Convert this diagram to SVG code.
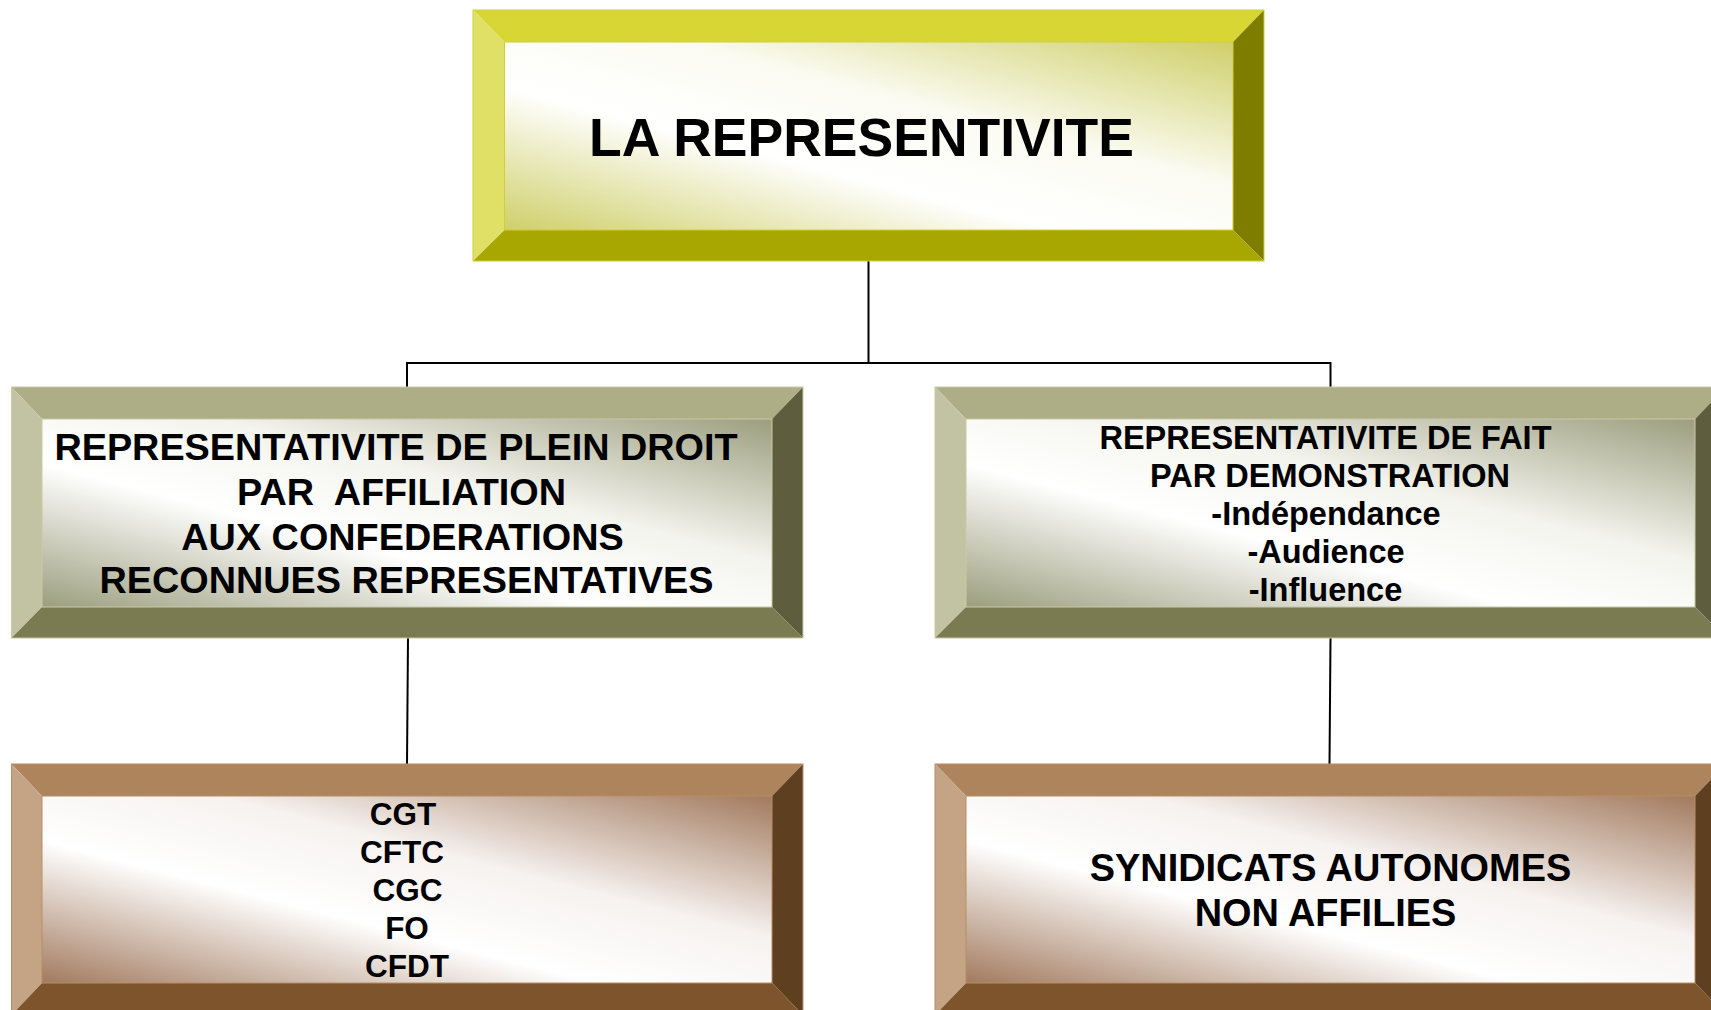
<svg xmlns="http://www.w3.org/2000/svg" width="1711" height="1010" viewBox="0 0 1711 1010">
<defs>
<style>
text{font-family:"Liberation Sans",Arial,sans-serif;font-weight:bold;fill:#000;text-anchor:middle;white-space:pre}
.conn{stroke:#000;stroke-width:2;fill:none}
.y1{fill:#D8D634}.y2{fill:#E0E066}.y3{fill:#7F7D00}.y4{fill:#A8A600}
.o1{fill:#ADAE86}.o2{fill:#C2C3A3}.o3{fill:#5E5E3E}.o4{fill:#7B7B52}
.b1{fill:#AE845C}.b2{fill:#C4A484}.b3{fill:#5E3F20}.b4{fill:#7E542C}
.ey{stroke:#CFCF3A;stroke-width:1}
.eo{stroke:#C9CAA8;stroke-width:1}
.eb{stroke:#B88E66;stroke-width:1}
</style>
<linearGradient id="gy" x1="1" y1="0" x2="0" y2="1">
<stop offset="0" stop-color="#CFCF6A"/>
<stop offset="0.38" stop-color="#FBFBF2"/>
<stop offset="0.62" stop-color="#FFFFFF"/>
<stop offset="1" stop-color="#CFCF6A"/>
</linearGradient>
<linearGradient id="go" x1="1" y1="0" x2="0" y2="1">
<stop offset="0" stop-color="#9C9E7E"/>
<stop offset="0.38" stop-color="#F4F4EE"/>
<stop offset="0.62" stop-color="#FFFFFF"/>
<stop offset="1" stop-color="#9C9E7E"/>
</linearGradient>
<linearGradient id="gb" x1="1" y1="0" x2="0" y2="1">
<stop offset="0" stop-color="#A27A5E"/>
<stop offset="0.38" stop-color="#F6F2F0"/>
<stop offset="0.62" stop-color="#FFFFFF"/>
<stop offset="1" stop-color="#A27A5E"/>
</linearGradient>
</defs>
<rect width="1711" height="1010" fill="#FFFFFF"/>

<g id="connectors">
<line class="conn" x1="868.5" y1="261" x2="868.5" y2="363"/>
<line class="conn" x1="407" y1="363" x2="1330.5" y2="363"/>
<line class="conn" x1="407" y1="362" x2="407" y2="387"/>
<line class="conn" x1="1330.5" y1="362" x2="1330.5" y2="387"/>
<line class="conn" x1="408" y1="638" x2="407" y2="764"/>
<line class="conn" x1="1330.5" y1="638" x2="1329.5" y2="764"/>
</g>

<g id="node-top">
<rect x="504.5" y="42" width="728.5" height="188" fill="url(#gy)"/>
<polygon class="y1" points="473,10 1264,10 1233,42 504.5,42"/>
<polygon class="y2" points="473,10 504.5,42 504.5,230 473,261"/>
<polygon class="y3" points="1264,10 1264,261 1233,230 1233,42"/>
<polygon class="y4" points="473,261 504.5,230 1233,230 1264,261"/>
<rect class="ey" x="473" y="10" width="791" height="251" fill="none"/>
<rect class="ey" x="504.5" y="42" width="728.5" height="188" fill="none"/>
<text x="861.5" y="156" font-size="53.5">LA REPRESENTIVITE</text>
</g>

<g id="node-plein-droit">
<rect x="42" y="419" width="730" height="188" fill="url(#go)"/>
<polygon class="o1" points="11.5,387 803,387 772,419 42,419"/>
<polygon class="o2" points="11.5,387 42,419 42,607 11.5,638"/>
<polygon class="o3" points="803,387 803,638 772,607 772,419"/>
<polygon class="o4" points="11.5,638 42,607 772,607 803,638"/>
<rect class="eo" x="11.5" y="387" width="791.5" height="251" fill="none"/>
<rect class="eo" x="42" y="419" width="730" height="188" fill="none"/>
<text font-size="37.8"><tspan x="396" y="460">REPRESENTATIVITE DE PLEIN DROIT</tspan><tspan x="401.5" y="505">PAR  AFFILIATION</tspan><tspan x="402.5" y="550">AUX CONFEDERATIONS</tspan><tspan x="406.5" y="593">RECONNUES REPRESENTATIVES</tspan></text>
</g>

<g id="node-de-fait">
<rect x="966" y="419" width="729" height="188" fill="url(#go)"/>
<polygon class="o1" points="935,387 1726,387 1695,419 966,419"/>
<polygon class="o2" points="935,387 966,419 966,607 935,638"/>
<polygon class="o3" points="1726,387 1726,638 1695,607 1695,419"/>
<polygon class="o4" points="935,638 966,607 1695,607 1726,638"/>
<rect class="eo" x="935" y="387" width="791" height="251" fill="none"/>
<rect class="eo" x="966" y="419" width="729" height="188" fill="none"/>
<text font-size="32.5"><tspan x="1325.5" y="448.5">REPRESENTATIVITE DE FAIT</tspan><tspan x="1330" y="486.5">PAR DEMONSTRATION</tspan><tspan x="1326" y="524.5">-Indépendance</tspan><tspan x="1326" y="562.5">-Audience</tspan><tspan x="1325.5" y="600.5">-Influence</tspan></text>
</g>

<g id="node-confederations">
<rect x="42" y="796" width="730" height="187" fill="url(#gb)"/>
<polygon class="b1" points="11.5,764 803,764 772,796 42,796"/>
<polygon class="b2" points="11.5,764 42,796 42,983 11.5,1015"/>
<polygon class="b3" points="803,764 803,1015 772,983 772,796"/>
<polygon class="b4" points="11.5,1015 42,983 772,983 803,1015"/>
<rect class="eb" x="11.5" y="764" width="791.5" height="251" fill="none"/>
<rect class="eb" x="42" y="796" width="730" height="187" fill="none"/>
<text font-size="31.5"><tspan x="403" y="824.5">CGT</tspan><tspan x="402" y="862.5">CFTC</tspan><tspan x="407.5" y="901">CGC</tspan><tspan x="407" y="939">FO</tspan><tspan x="407" y="977">CFDT</tspan></text>
</g>

<g id="node-autonomes">
<rect x="966" y="796" width="729" height="187" fill="url(#gb)"/>
<polygon class="b1" points="935,764 1726,764 1695,796 966,796"/>
<polygon class="b2" points="935,764 966,796 966,983 935,1015"/>
<polygon class="b3" points="1726,764 1726,1015 1695,983 1695,796"/>
<polygon class="b4" points="935,1015 966,983 1695,983 1726,1015"/>
<rect class="eb" x="935" y="764" width="791" height="251" fill="none"/>
<rect class="eb" x="966" y="796" width="729" height="187" fill="none"/>
<text font-size="37.9"><tspan x="1330.5" y="880.5">SYNIDICATS AUTONOMES</tspan><tspan x="1325.5" y="925.5">NON AFFILIES</tspan></text>
</g>
</svg>
